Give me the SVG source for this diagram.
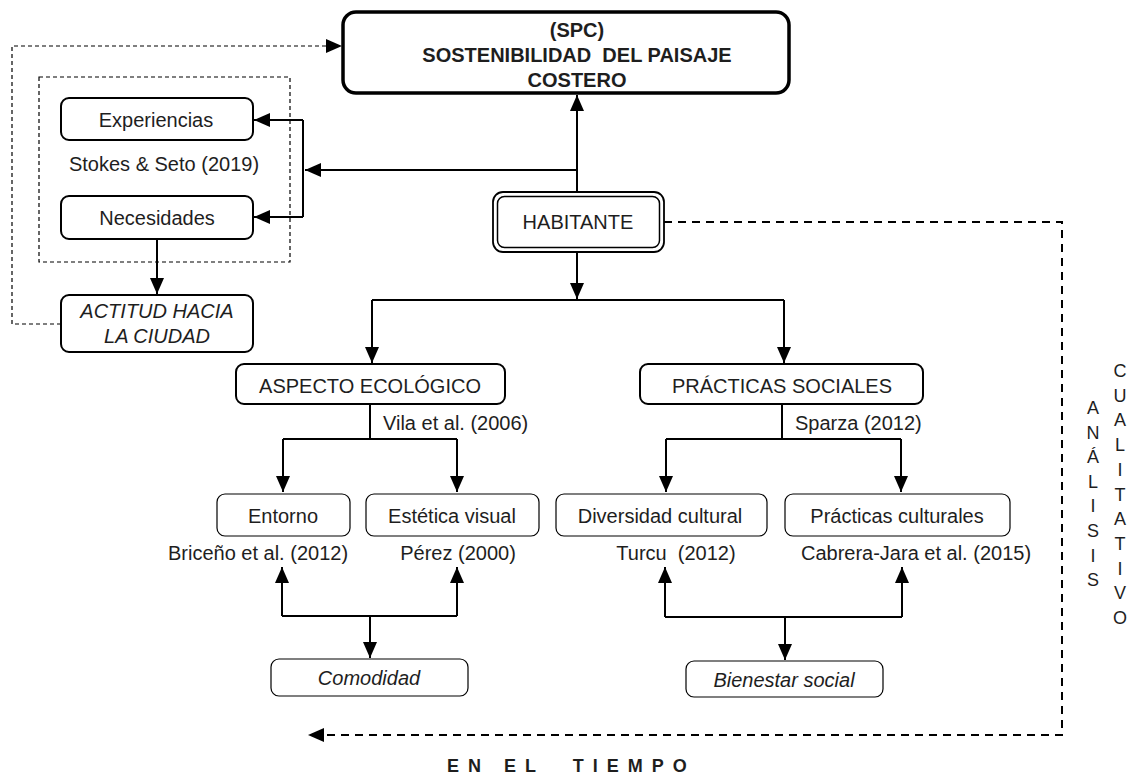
<svg xmlns="http://www.w3.org/2000/svg" width="1133" height="777" viewBox="0 0 1133 777">
<style>
.t{font-family:"Liberation Sans",Arial,sans-serif;font-size:20px;fill:#1e1e1e;text-anchor:middle;white-space:pre}
.s{text-anchor:start}
.b{font-weight:bold}
.i{font-style:italic}
.v{font-size:18px}
.bx{fill:#fff;stroke:#000;stroke-width:2}
.bt{fill:#fff;stroke:#000;stroke-width:1.2}
.c{fill:none;stroke:#000;stroke-width:2}
.d1{fill:none;stroke:#000;stroke-width:1.2;stroke-dasharray:4 3}
.d2{fill:none;stroke:#000;stroke-width:2;stroke-dasharray:8 6}
</style>
<defs>
<marker id="ah" markerUnits="userSpaceOnUse" markerWidth="16" markerHeight="14" viewBox="0 0 16 14" refX="16" refY="7" orient="auto">
<path d="M0,0 L16,7 L0,14 Z" fill="#000"/>
</marker>
</defs>
<rect width="1133" height="777" fill="#fff"/>

<g id="connectors">
<rect class="d1" x="39" y="77" width="251" height="185"/>
<path class="d1" d="M61,324 H12 V46 H342" marker-end="url(#ah)"/>
<path class="d2" d="M664,222 H1062 V735 H308" marker-end="url(#ah)"/>
<path class="c" d="M577,192 V95" marker-end="url(#ah)"/>
<path class="c" d="M577,170 H305" marker-end="url(#ah)"/>
<path class="c" d="M303,120 V217"/>
<path class="c" d="M303,120 H254" marker-end="url(#ah)"/>
<path class="c" d="M303,217 H254" marker-end="url(#ah)"/>
<path class="c" d="M157,239 V294" marker-end="url(#ah)"/>
<path class="c" d="M577,252 V299" marker-end="url(#ah)"/>
<path class="c" d="M372,300 H784"/>
<path class="c" d="M372,300 V363" marker-end="url(#ah)"/>
<path class="c" d="M784,300 V363" marker-end="url(#ah)"/>
<path class="c" d="M370,404 V439"/>
<path class="c" d="M283,439 H457"/>
<path class="c" d="M283,439 V492" marker-end="url(#ah)"/>
<path class="c" d="M457,439 V492" marker-end="url(#ah)"/>
<path class="c" d="M782,404 V439"/>
<path class="c" d="M666,439 H901"/>
<path class="c" d="M666,439 V492" marker-end="url(#ah)"/>
<path class="c" d="M901,439 V492" marker-end="url(#ah)"/>
<path class="c" d="M282,616 H457"/>
<path class="c" d="M282,616 V567" marker-end="url(#ah)"/>
<path class="c" d="M457,616 V567" marker-end="url(#ah)"/>
<path class="c" d="M370,616 V658" marker-end="url(#ah)"/>
<path class="c" d="M665,617 H902"/>
<path class="c" d="M665,617 V567" marker-end="url(#ah)"/>
<path class="c" d="M902,617 V567" marker-end="url(#ah)"/>
<path class="c" d="M785,617 V660" marker-end="url(#ah)"/>
</g>

<g id="spc">
<rect x="343" y="12" width="446" height="81" rx="13" fill="#fff" stroke="#000" stroke-width="3.5"/>
<text class="t b" x="577" y="37">(SPC)</text>
<text class="t b" x="577" y="62">SOSTENIBILIDAD  DEL PAISAJE</text>
<text class="t b" x="577" y="87">COSTERO</text>
</g>

<g id="experiencias">
<rect class="bx" x="61" y="98" width="192" height="42" rx="8"/>
<text class="t" x="156" y="127">Experiencias</text>
</g>
<g id="ref-stokes"><text class="t" x="164" y="171">Stokes &amp; Seto (2019)</text></g>
<g id="necesidades">
<rect class="bx" x="61" y="196" width="192" height="43" rx="8"/>
<text class="t" x="157" y="225">Necesidades</text>
</g>
<g id="actitud">
<rect class="bx" x="61" y="295" width="192" height="57" rx="8"/>
<text class="t i" x="157" y="318">ACTITUD HACIA</text>
<text class="t i" x="157" y="343">LA CIUDAD</text>
</g>

<g id="habitante">
<rect x="493" y="192" width="171" height="60" rx="10" fill="#fff" stroke="#000" stroke-width="1.8"/>
<rect x="497.5" y="196.5" width="162" height="51" rx="7" fill="none" stroke="#000" stroke-width="1.5"/>
<text class="t" x="578" y="229">HABITANTE</text>
</g>

<g id="aspecto">
<rect class="bx" x="236" y="364" width="269" height="40" rx="8"/>
<text class="t" x="370" y="393">ASPECTO ECOLÓGICO</text>
</g>
<g id="ref-vila"><text class="t s" x="383" y="430">Vila et al. (2006)</text></g>
<g id="practicas-sociales">
<rect class="bx" x="640" y="364" width="283" height="40" rx="8"/>
<text class="t" x="782" y="393">PRÁCTICAS SOCIALES</text>
</g>
<g id="ref-sparza"><text class="t s" x="795" y="430">Sparza (2012)</text></g>

<g id="entorno">
<rect class="bt" x="217" y="494" width="133" height="42" rx="8"/>
<text class="t" x="283" y="523">Entorno</text>
</g>
<g id="estetica">
<rect class="bt" x="366" y="494" width="173" height="42" rx="8"/>
<text class="t" x="452" y="523">Estética visual</text>
</g>
<g id="diversidad">
<rect class="bt" x="556" y="494" width="211" height="42" rx="8"/>
<text class="t" x="660" y="523">Diversidad cultural</text>
</g>
<g id="practicas-culturales">
<rect class="bt" x="785" y="494" width="225" height="42" rx="8"/>
<text class="t" x="897" y="523">Prácticas culturales</text>
</g>

<g id="refs-row">
<text class="t" x="258" y="560">Briceño et al. (2012)</text>
<text class="t" x="458" y="560">Pérez (2000)</text>
<text class="t" x="676" y="560">Turcu  (2012)</text>
<text class="t" x="916" y="560">Cabrera-Jara et al. (2015)</text>
</g>

<g id="comodidad">
<rect class="bt" x="271" y="659" width="197" height="37" rx="8"/>
<text class="t i" x="369" y="685">Comodidad</text>
</g>
<g id="bienestar">
<rect class="bt" x="686" y="661" width="197" height="36" rx="8"/>
<text class="t i" x="784" y="687">Bienestar social</text>
</g>

<g id="label-analisis">
<text class="t v" x="1093" y="414">A<tspan x="1093" dy="24.6">N</tspan><tspan x="1093" dy="24.6">Á</tspan><tspan x="1093" dy="24.6">L</tspan><tspan x="1093" dy="24.6">I</tspan><tspan x="1093" dy="24.6">S</tspan><tspan x="1093" dy="24.6">I</tspan><tspan x="1093" dy="24.6">S</tspan></text>
<text class="t v" x="1120" y="377">C<tspan x="1120" dy="24.7">U</tspan><tspan x="1120" dy="24.7">A</tspan><tspan x="1120" dy="24.7">L</tspan><tspan x="1120" dy="24.7">I</tspan><tspan x="1120" dy="24.7">T</tspan><tspan x="1120" dy="24.7">A</tspan><tspan x="1120" dy="24.7">T</tspan><tspan x="1120" dy="24.7">I</tspan><tspan x="1120" dy="24.7">V</tspan><tspan x="1120" dy="24.7">O</tspan></text>
</g>
<g id="label-tiempo">
<text class="t b s" x="447" y="772" style="font-size:18px;letter-spacing:9px">EN EL  TIEMPO</text>
</g>
</svg>
